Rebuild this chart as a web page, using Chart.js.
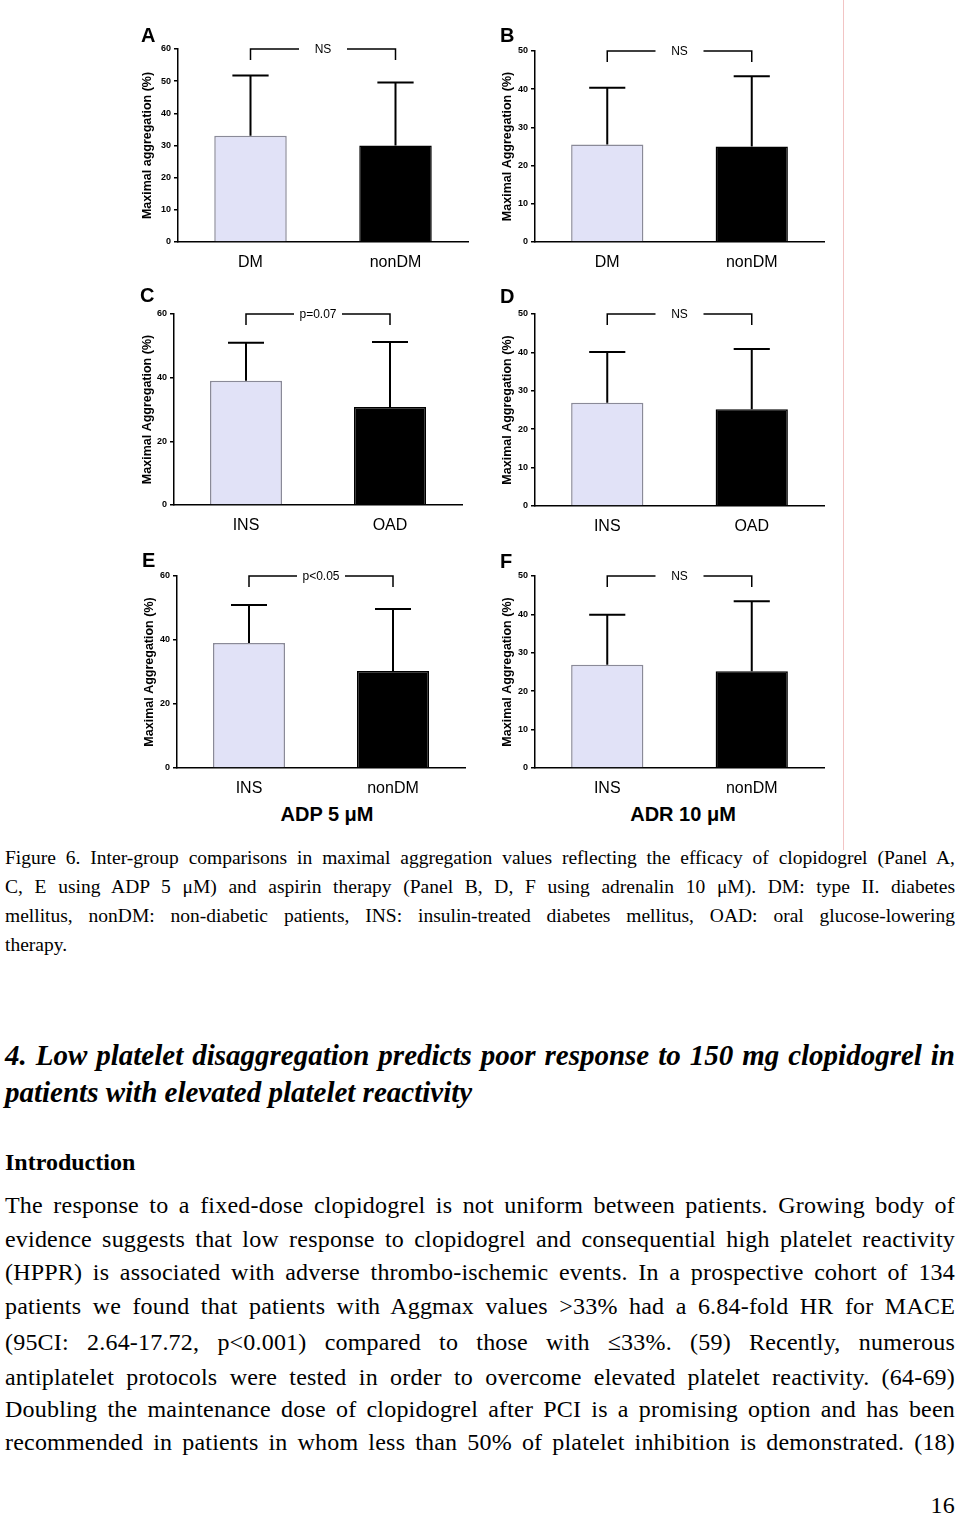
<!DOCTYPE html>
<html>
<head>
<meta charset="utf-8">
<script src="https://cdn.jsdelivr.net/npm/chart.js@4.4.1/dist/chart.umd.min.js"></script>
<style>
  body { margin: 0; background: #fff; }
  #page { position: relative; width: 960px; height: 1517px; overflow: hidden; background: #fff; }
  canvas { position: absolute; }
  .ln { position: absolute; left: 5px; width: 950px; text-align: justify; text-align-last: justify; color: #000; white-space: normal; }
  .cap { font-family: "Liberation Serif", "Times New Roman", serif; font-size: 19.5px; line-height: 19px; }
  .hd { font-family: "Liberation Serif", "Times New Roman", serif; font-size: 29px; line-height: 29px; font-weight: bold; font-style: italic; }
  .bd { font-family: "Liberation Serif", "Times New Roman", serif; font-size: 24px; line-height: 24px; letter-spacing: 0.2px; }
  .left { text-align-last: left; }
  .letter { position: absolute; font: bold 20px "Liberation Sans", Arial, sans-serif; line-height: 20px; color: #000; }
  .agent { position: absolute; width: 200px; text-align: center; font: bold 20px "Liberation Sans", Arial, sans-serif; line-height: 20px; color: #000; }
  #redline { position: absolute; left: 843px; top: 0; width: 1px; height: 850px; background: #f2c4c4; }
</style>
</head>
<body>
<div id="page">
  <canvas id="chartA" width="360" height="260" style="left:120px;top:20px"></canvas>
  <canvas id="chartB" width="360" height="260" style="left:480px;top:20px"></canvas>
  <canvas id="chartC" width="360" height="258" style="left:120px;top:282px"></canvas>
  <canvas id="chartD" width="360" height="258" style="left:480px;top:282px"></canvas>
  <canvas id="chartE" width="360" height="255" style="left:120px;top:545px"></canvas>
  <canvas id="chartF" width="360" height="255" style="left:480px;top:545px"></canvas>

  <div class="letter" style="left:141px;top:25px">A</div>
  <div class="letter" style="left:500px;top:25px">B</div>
  <div class="letter" style="left:140px;top:285px">C</div>
  <div class="letter" style="left:500px;top:286px">D</div>
  <div class="letter" style="left:142px;top:550px">E</div>
  <div class="letter" style="left:500px;top:551px">F</div>

  <div class="agent" style="left:227px;top:804px">ADP 5 μM</div>
  <div class="agent" style="left:583px;top:804px">ADR 10 μM</div>

  <div id="redline"></div>

  <div class="ln cap" style="top:848px">Figure 6. Inter-group comparisons in maximal aggregation values reflecting the efficacy of clopidogrel (Panel A,</div>
  <div class="ln cap" style="top:877px">C, E using ADP 5 μM) and aspirin therapy (Panel B, D, F using adrenalin 10 μM). DM: type II. diabetes</div>
  <div class="ln cap" style="top:906px">mellitus, nonDM: non-diabetic patients, INS: insulin-treated diabetes mellitus, OAD: oral glucose-lowering</div>
  <div class="ln cap left" style="top:935px">therapy.</div>

  <div class="ln hd" style="top:1041px">4. Low platelet disaggregation predicts poor response to 150 mg clopidogrel in</div>
  <div class="ln hd left" style="top:1078px">patients with elevated platelet reactivity</div>

  <div class="ln bd left" style="top:1150px;font-weight:bold;letter-spacing:0">Introduction</div>

  <div class="ln bd" style="top:1193px">The response to a fixed-dose clopidogrel is not uniform between patients. Growing body of</div>
  <div class="ln bd" style="top:1227px">evidence suggests that low response to clopidogrel and consequential high platelet reactivity</div>
  <div class="ln bd" style="top:1260px">(HPPR) is associated with adverse thrombo-ischemic events. In a prospective cohort of 134</div>
  <div class="ln bd" style="top:1294px">patients we found that patients with Aggmax values &gt;33% had a 6.84-fold HR for MACE</div>
  <div class="ln bd" style="top:1330px">(95CI: 2.64-17.72, p&lt;0.001) compared to those with ≤33%. (59) Recently, numerous</div>
  <div class="ln bd" style="top:1365px">antiplatelet protocols were tested in order to overcome elevated platelet reactivity. (64-69)</div>
  <div class="ln bd" style="top:1397px">Doubling the maintenance dose of clopidogrel after PCI is a promising option and has been</div>
  <div class="ln bd" style="top:1430px">recommended in patients in whom less than 50% of platelet inhibition is demonstrated. (18)</div>

  <div class="bd" style="position:absolute;left:855px;width:100px;top:1493px;text-align:right">16</div>
</div>

<script>
// values (mean and SD, %)
const catsA = ['DM', 'nonDM']
const meanA = [33, 30]
const sdA = [18.8, 19.6]
const sigA = 'NS'

const catsB = ['DM', 'nonDM']
const meanB = [25.5, 25]
const sdB = [14.9, 18.4]
const sigB = 'NS'

const catsC = ['INS', 'OAD']
const meanC = [39, 30.8]
const sdC = [12, 20.4]
const sigC = 'p=0.07'

const catsD = ['INS', 'OAD']
const meanD = [26.9, 25.2]
const sdD = [13.2, 15.7]
const sigD = 'NS'

const catsE = ['INS', 'nonDM']
const meanE = [39.1, 30.3]
const sdE = [11.8, 19.4]
const sigE = 'p<0.05'

const catsF = ['INS', 'nonDM']
const meanF = [26.9, 25.2]
const sdF = [13, 18.2]
const sigF = 'NS'

const SANS = '"Liberation Sans", Arial, sans-serif'

// upper SD whiskers on top of each bar
const errorBarPlugin = {
    id: 'errorBars',
    afterDatasetsDraw(chart, args, opts) {
        const { ctx } = chart
        const y = chart.scales.y
        const bars = chart.getDatasetMeta(0).data
        const means = chart.data.datasets[0].data
        ctx.save()
        ctx.strokeStyle = '#000'
        ctx.lineWidth = 2
        bars.forEach((bar, i) => {
            const top = y.getPixelForValue(means[i] + opts.sd[i])
            const half = bar.width / 4
            ctx.beginPath()
            ctx.moveTo(bar.x, bar.y)
            ctx.lineTo(bar.x, top)
            ctx.moveTo(bar.x - half, top)
            ctx.lineTo(bar.x + half, top)
            ctx.stroke()
        })
        ctx.restore()
    }
}

// significance bracket between the two bars
const bracketPlugin = {
    id: 'bracket',
    afterDatasetsDraw(chart, args, opts) {
        const { ctx } = chart
        const y = chart.scales.y
        const bars = chart.getDatasetMeta(0).data
        const x1 = bars[0].x
        const x2 = bars[1].x
        const yy = y.getPixelForValue(y.max)
        const mid = (x1 + x2) / 2
        ctx.save()
        ctx.font = '12px ' + SANS
        const tw = ctx.measureText(opts.text).width
        const gap = Math.max(tw + 10, 48)
        ctx.strokeStyle = '#000'
        ctx.lineWidth = 1.5
        ctx.beginPath()
        ctx.moveTo(x1, yy + 11)
        ctx.lineTo(x1, yy)
        ctx.lineTo(mid - gap / 2, yy)
        ctx.moveTo(mid + gap / 2, yy)
        ctx.lineTo(x2, yy)
        ctx.lineTo(x2, yy + 11)
        ctx.stroke()
        ctx.fillStyle = '#000'
        ctx.textAlign = 'center'
        ctx.textBaseline = 'middle'
        ctx.fillText(opts.text, mid, yy + 1)
        ctx.restore()
    }
}

const panels = [
    { id: 'chartA', cats: catsA, mean: meanA, sd: sdA, sig: sigA, max: 60, step: 10, title: 'Maximal aggregation (%)',
      box: { x: 120, y: 20, w: 360, h: 260 }, area: { left: 178, right: 468, top: 49, bottom: 242 }, titleX: 148 },
    { id: 'chartB', cats: catsB, mean: meanB, sd: sdB, sig: sigB, max: 50, step: 10, title: 'Maximal Aggregation (%)',
      box: { x: 480, y: 20, w: 360, h: 260 }, area: { left: 535, right: 824, top: 51, bottom: 242 }, titleX: 508 },
    { id: 'chartC', cats: catsC, mean: meanC, sd: sdC, sig: sigC, max: 60, step: 20, title: 'Maximal Aggregation (%)',
      box: { x: 120, y: 282, w: 360, h: 258 }, area: { left: 174, right: 462, top: 314, bottom: 505 }, titleX: 148 },
    { id: 'chartD', cats: catsD, mean: meanD, sd: sdD, sig: sigD, max: 50, step: 10, title: 'Maximal Aggregation (%)',
      box: { x: 480, y: 282, w: 360, h: 258 }, area: { left: 535, right: 824, top: 314, bottom: 506 }, titleX: 508 },
    { id: 'chartE', cats: catsE, mean: meanE, sd: sdE, sig: sigE, max: 60, step: 20, title: 'Maximal Aggregation (%)',
      box: { x: 120, y: 545, w: 360, h: 255 }, area: { left: 177, right: 465, top: 576, bottom: 768 }, titleX: 150 },
    { id: 'chartF', cats: catsF, mean: meanF, sd: sdF, sig: sigF, max: 50, step: 10, title: 'Maximal Aggregation (%)',
      box: { x: 480, y: 545, w: 360, h: 255 }, area: { left: 535, right: 824, top: 576, bottom: 768 }, titleX: 508 },
]

panels.forEach(p => {
    const { box, area } = p
    const ctx = document.getElementById(p.id).getContext('2d')
    new Chart(ctx, {
        type: 'bar',
        data: {
            labels: p.cats,
            datasets: [{
                data: p.mean,
                backgroundColor: ['#e1e2f7', '#000'],
                borderColor: ['#8a8a98', '#000'],
                borderWidth: 1.5,
                barPercentage: 0.5,
                categoryPercentage: 1,
            }],
        },
        options: {
            responsive: false,
            animation: false,
            layout: {
                padding: { top: area.top - box.y, right: box.x + box.w - area.right, left: 0, bottom: 0 },
            },
            plugins: {
                legend: { display: false },
                tooltip: { enabled: false },
                errorBars: { sd: p.sd },
                bracket: { text: p.sig },
            },
            scales: {
                x: {
                    grid: { display: false },
                    border: { display: true, color: '#000', width: 1.5 },
                    ticks: { color: '#000', font: { family: SANS, size: 16 }, padding: 3 },
                    afterFit: s => { s.height = box.y + box.h - area.bottom },
                },
                y: {
                    min: 0,
                    max: p.max,
                    ticks: { stepSize: p.step, color: '#000', font: { family: SANS, size: 9, weight: 'bold' }, padding: 3 },
                    grid: { drawOnChartArea: false, drawTicks: true, tickLength: 4, color: '#000', lineWidth: 1.5 },
                    border: { display: true, color: '#000', width: 1.5 },
                    title: {
                        display: true,
                        text: p.title,
                        color: '#000',
                        font: { family: SANS, size: 12.5, weight: 'bold' },
                        padding: { top: p.titleX - box.x - 7.5, bottom: 0 },
                    },
                    afterFit: s => { s.width = area.left - box.x },
                },
            },
        },
        plugins: [errorBarPlugin, bracketPlugin],
    })
})
</script>
</body>
</html>
